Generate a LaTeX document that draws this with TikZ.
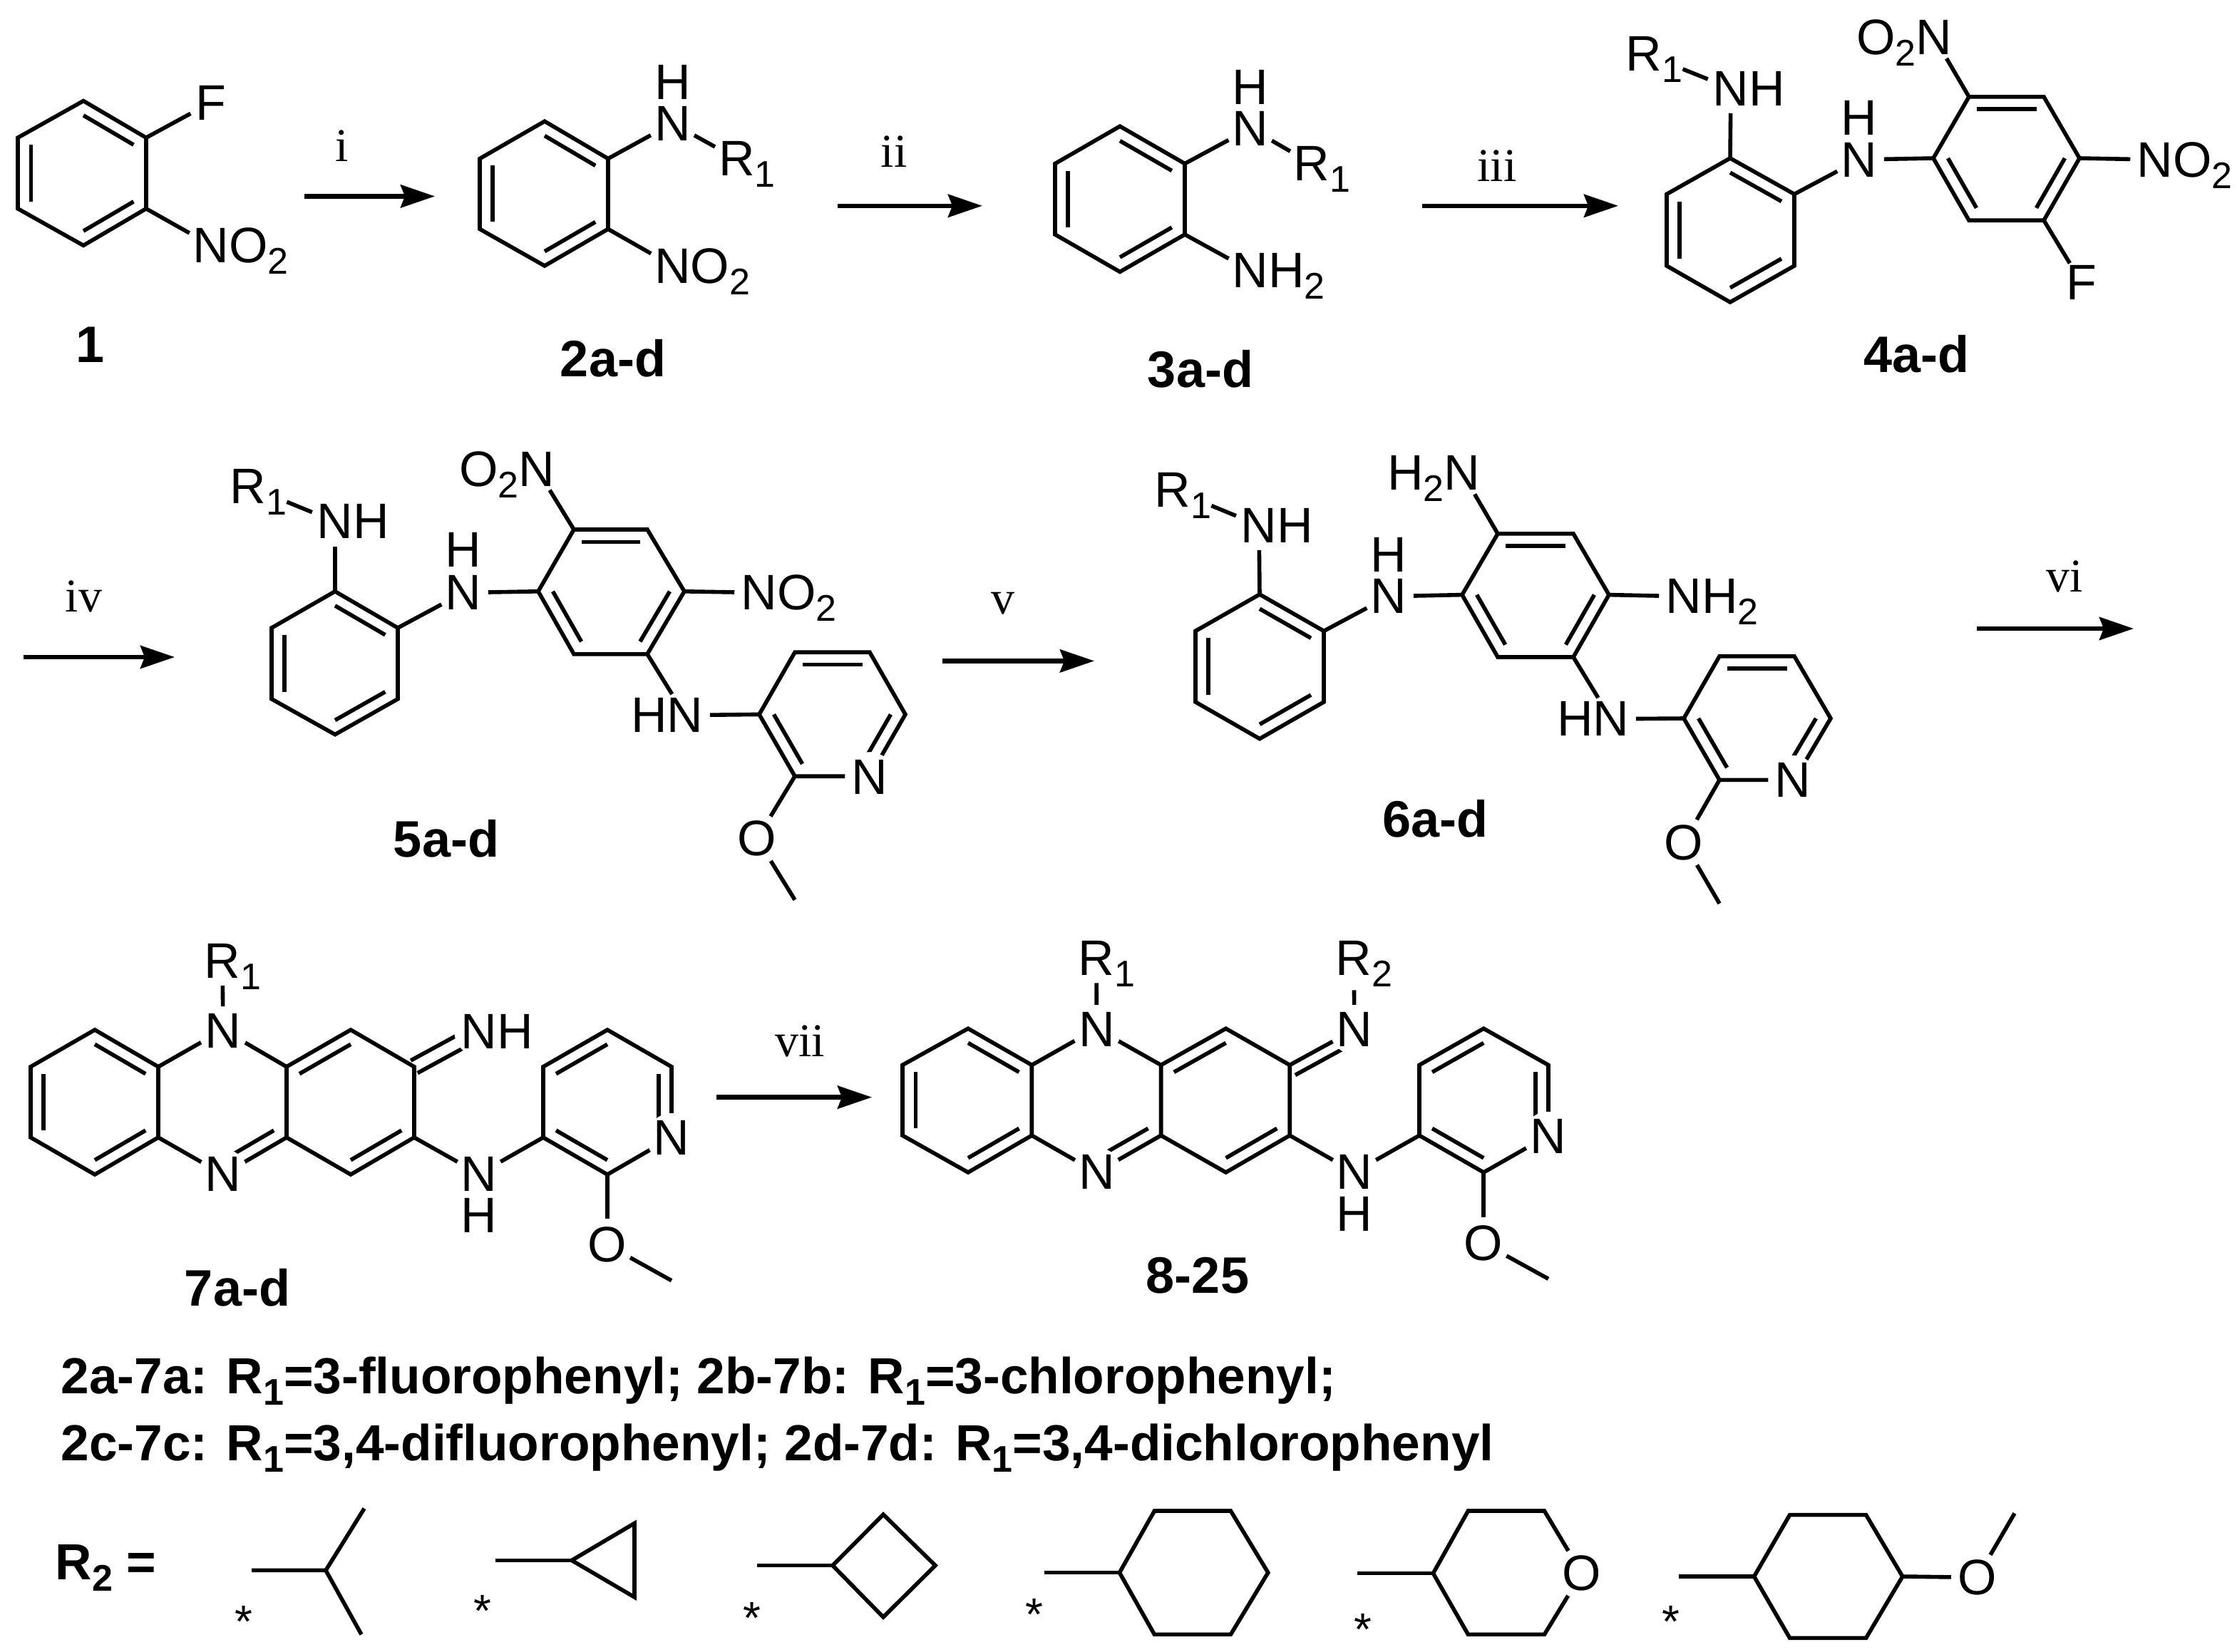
\documentclass[tikz,border=0pt]{standalone}
\usepackage{fontspec}
\setmainfont{Liberation Sans}
\newfontfamily\romanfont{Liberation Serif}
\usetikzlibrary{arrows.meta,calc}

\tikzset{every picture/.style={line width=2.8pt}}
\tikzset{bond/.style={line width=2.8pt}}
\tikzset{rxn/.style={line width=3.2pt,-{Stealth[length=24pt,width=16pt,inset=3pt]}}}
\tikzset{atom/.style={circle,inner sep=0pt,outer sep=0pt,font=\fontsize{35}{35}\selectfont}}
\tikzset{atomin/.style={atom,fill=white}}
\tikzset{cpd/.style={anchor=base,inner sep=0pt,font=\fontsize{36}{36}\selectfont\bfseries}}
\tikzset{note/.style={anchor=base west,inner sep=0pt,font=\fontsize{35.6}{35.6}\selectfont\bfseries}}
\tikzset{reagent/.style={anchor=base,inner sep=0pt,font=\fontsize{33}{33}\selectfont\romanfont}}
\tikzset{astk/.style={inner sep=0pt,font=\fontsize{32}{32}\selectfont}}

\newcommand{\low}[1]{\raisebox{-8pt}{\fontsize{26}{26}\selectfont #1}}
\newcommand{\rtext}[1]{\rlap{\smash{#1}}}
\newcommand{\ltext}[1]{\llap{\smash{#1}}}

% ring with a vertex on top: name, xl, xm, xr, ytop, yupper, ylower, ybottom
\newcommand{\pring}[8]{%
  \coordinate (#1-1) at (#3,#5);
  \coordinate (#1-2) at (#4,#6);
  \coordinate (#1-3) at (#4,#7);
  \coordinate (#1-4) at (#3,#8);
  \coordinate (#1-5) at (#2,#7);
  \coordinate (#1-6) at (#2,#6);
  \coordinate (#1-c) at ($(#1-1)!.5!(#1-4)$);
  \draw [bond] (#1-1) -- (#1-2) -- (#1-3) -- (#1-4) -- (#1-5) -- (#1-6) -- cycle;
}
% ring with an edge on top: name, xl, x1, x2, xr, ytop, ymid, ybottom
\newcommand{\fring}[8]{%
  \coordinate (#1-1) at (#3,#6);
  \coordinate (#1-2) at (#4,#6);
  \coordinate (#1-3) at (#5,#7);
  \coordinate (#1-4) at (#4,#8);
  \coordinate (#1-5) at (#3,#8);
  \coordinate (#1-6) at (#2,#7);
  \coordinate (#1-c) at ($(#1-6)!.5!(#1-3)$);
  \draw [bond] (#1-1) -- (#1-2) -- (#1-3) -- (#1-4) -- (#1-5) -- (#1-6) -- cycle;
}
\newcommand{\inbond}[3]{\draw [bond] ($(#1-#2)!.2!(#1-c)$) -- ($(#1-#3)!.2!(#1-c)$);}
\newcommand{\offbond}[3]{\draw [bond] ($(#1)!#3!90:(#2)$) -- ($(#2)!#3!-90:(#1)$);}

\begin{document}
\begin{tikzpicture}[x=1pt,y=1pt,yscale=-1,xscale=1]
    \path [use as bounding box] (0,0) rectangle (1569,1159);

    %Shape: compound 1
    \pring{r1}{12.5}{58.5}{102.5}{70.8}{96.6}{146.4}{172.2}
    \inbond{r1}{1}{2} \inbond{r1}{3}{4} \inbond{r1}{5}{6}
    \node [atom] (f1) at (147.8,72) {F};
    \node [atom] (n1) at (148,172) {N\rtext{O\low{2}}};
    \draw [bond] (r1-2) -- (f1);
    \draw [bond] (r1-3) -- (n1);
    \node [cpd] (l1) at (63.5,254.4) {1};

    %Arrow: i
    \coordinate (a1s) at (213.5,137.7);
    \coordinate (a1e) at (305,137.7);
    \draw [rxn] (a1s) -- (a1e);
    \node [reagent] (t1) at (240,113) {i};

    %Shape: compound 2
    \pring{r2}{336.5}{382}{426.5}{85.1}{111.3}{160.7}{186.5}
    \inbond{r2}{1}{2} \inbond{r2}{3}{4} \inbond{r2}{5}{6}
    \node [atom] (n2) at (471.7,86.5) {N};
    \node [atom] (h2) at (471.7,57.5) {H};
    \node [atom] (s2) at (516.7,111.4) {R\rtext{\low{1}}};
    \node [atom] (o2) at (471.7,186.5) {N\rtext{O\low{2}}};
    \draw [bond] (r2-2) -- (n2);
    \draw [bond] (n2) -- (s2);
    \draw [bond] (r2-3) -- (o2);
    \node [cpd] (l2) at (430,264) {2a-d};

    %Arrow: ii
    \coordinate (a2s) at (587.5,144.4);
    \coordinate (a2e) at (689,144.4);
    \draw [rxn] (a2s) -- (a2e);
    \node [reagent] (t2) at (627,117) {ii};

    %Shape: compound 3
    \pring{r3}{740}{785.5}{831}{88.6}{114.8}{164.5}{190.7}
    \inbond{r3}{1}{2} \inbond{r3}{3}{4} \inbond{r3}{5}{6}
    \node [atom] (n3) at (877,90) {N};
    \node [atom] (h3) at (877,61.2) {H};
    \node [atom] (s3) at (920,114.8) {R\rtext{\low{1}}};
    \node [atom] (m3) at (877,189.8) {N\rtext{H\low{2}}};
    \draw [bond] (r3-2) -- (n3);
    \draw [bond] (n3) -- (s3);
    \draw [bond] (r3-3) -- (m3);
    \node [cpd] (l3) at (842,271.6) {3a-d};

    %Arrow: iii
    \coordinate (a3s) at (997.5,144.4);
    \coordinate (a3e) at (1135,144.4);
    \draw [rxn] (a3s) -- (a3e);
    \node [reagent] (t3) at (1050,127) {iii};

    %Shape: compound 4
    \pring{r4}{1169}{1213.5}{1258.5}{111}{136.2}{186.5}{212}
    \inbond{r4}{1}{2} \inbond{r4}{3}{4} \inbond{r4}{5}{6}
    \fring{q4}{1356}{1381}{1433.5}{1458.5}{67.9}{111}{154.6}
    \inbond{q4}{1}{2} \inbond{q4}{3}{4} \inbond{q4}{5}{6}
    \node [atom] (a4) at (1214,62) {N\rtext{H}};
    \node [atom] (s4) at (1153,37.5) {R\rtext{\low{1}}};
    \node [atom] (n4) at (1304,112) {N};
    \node [atom] (h4) at (1304,82.7) {H};
    \node [atom] (o4) at (1356.5,26) {\ltext{O\low{2}}N};
    \node [atom] (p4) at (1511.5,112) {N\rtext{O\low{2}}};
    \node [atom] (f4) at (1460,198.4) {F};
    \draw [bond] (r4-1) -- (a4);
    \draw [bond,shorten <=12pt] (s4) -- (a4);
    \draw [bond] (r4-2) -- (n4);
    \draw [bond] (q4-6) -- (n4);
    \draw [bond] (q4-1) -- (o4);
    \draw [bond] (q4-3) -- (p4);
    \draw [bond] (q4-4) -- (f4);
    \node [cpd] (l4) at (1344,261) {4a-d};

    %Arrow: iv
    \coordinate (a4s) at (16.5,461);
    \coordinate (a4e) at (122.5,461);
    \draw [rxn] (a4s) -- (a4e);
    \node [reagent] (t4) at (58.7,429) {iv};

    %Shape: compound 5
    \pring{r5}{190.5}{235}{279}{414.9}{440.5}{490.4}{515.3}
    \inbond{r5}{1}{2} \inbond{r5}{3}{4} \inbond{r5}{5}{6}
    \fring{q5}{377.5}{402.5}{454}{480}{371.5}{414.9}{458.9}
    \inbond{q5}{1}{2} \inbond{q5}{3}{4} \inbond{q5}{5}{6}
    \fring{y5}{532.5}{557.5}{610}{635}{457.6}{501.2}{544.6}
    \inbond{y5}{1}{2} \inbond{y5}{3}{4} \inbond{y5}{5}{6}
    \node [atom] (a5) at (235,365.9) {N\rtext{H}};
    \node [atom] (s5) at (174,341) {R\rtext{\low{1}}};
    \node [atom] (n5) at (325,415.8) {N};
    \node [atom] (h5) at (325,385.6) {H};
    \node [atom] (o5) at (376.5,329) {\ltext{O\low{2}}N};
    \node [atom] (p5) at (532.5,415.8) {N\rtext{O\low{2}}};
    \node [atom] (b5) at (480.5,501.8) {\ltext{H}N};
    \node [atomin] (w5) at (610,545) {N};
    \node [atom] (e5) at (531,588.4) {O};
    \coordinate (c5) at (557.5,631.3);
    \draw [bond] (r5-1) -- (a5);
    \draw [bond,shorten <=12pt] (s5) -- (a5);
    \draw [bond] (r5-2) -- (n5);
    \draw [bond] (q5-6) -- (n5);
    \draw [bond] (q5-1) -- (o5);
    \draw [bond] (q5-3) -- (p5);
    \draw [bond] (q5-4) -- (b5);
    \draw [bond] (b5) -- (y5-6);
    \draw [bond] (y5-5) -- (e5);
    \draw [bond] (e5) -- (c5);
    \node [cpd] (l5) at (313,601) {5a-d};

    %Arrow: v
    \coordinate (a5s) at (661,463.7);
    \coordinate (a5e) at (767.5,463.7);
    \draw [rxn] (a5s) -- (a5e);
    \node [reagent] (t5) at (703.5,430.7) {v};

    %Shape: compound 6
    \pring{r6}{838.5}{883.5}{928.5}{417}{442.7}{492.5}{518.3}
    \inbond{r6}{1}{2} \inbond{r6}{3}{4} \inbond{r6}{5}{6}
    \fring{q6}{1025.5}{1050.5}{1103.5}{1128.5}{374.4}{417.3}{461}
    \inbond{q6}{1}{2} \inbond{q6}{3}{4} \inbond{q6}{5}{6}
    \fring{y6}{1181}{1206}{1258.5}{1284}{460.4}{504}{547.2}
    \inbond{y6}{1}{2} \inbond{y6}{3}{4} \inbond{y6}{5}{6}
    \node [atom] (a6) at (883,368.5) {N\rtext{H}};
    \node [atom] (s6) at (822.5,343.6) {R\rtext{\low{1}}};
    \node [atom] (n6) at (974,418.4) {N};
    \node [atom] (h6) at (974,389.1) {H};
    \node [atom] (o6) at (1025.5,331.7) {\ltext{H\low{2}}N};
    \node [atom] (p6) at (1181,418.4) {N\rtext{H\low{2}}};
    \node [atom] (b6) at (1130,504.4) {\ltext{H}N};
    \node [atomin] (w6) at (1257.5,547.4) {N};
    \node [atom] (e6) at (1181,591) {O};
    \coordinate (c6) at (1206,633.9);
    \draw [bond] (r6-1) -- (a6);
    \draw [bond,shorten <=12pt] (s6) -- (a6);
    \draw [bond] (r6-2) -- (n6);
    \draw [bond] (q6-6) -- (n6);
    \draw [bond] (q6-1) -- (o6);
    \draw [bond] (q6-3) -- (p6);
    \draw [bond] (q6-4) -- (b6);
    \draw [bond] (b6) -- (y6-6);
    \draw [bond] (y6-5) -- (e6);
    \draw [bond] (e6) -- (c6);
    \node [cpd] (l6) at (1006.5,587.3) {6a-d};

    %Arrow: vi
    \coordinate (a6s) at (1386.5,441);
    \coordinate (a6e) at (1496.5,441);
    \draw [rxn] (a6s) -- (a6e);
    \node [reagent] (t6) at (1448,415.3) {vi};

    %Shape: compound 7
    \pring{r7}{21.5}{66.5}{111}{722.5}{748.4}{798}{824}
    \inbond{r7}{1}{2} \inbond{r7}{3}{4} \inbond{r7}{5}{6}
    \pring{m7}{111}{156.5}{201}{722.5}{748.4}{798}{824}
    \inbond{m7}{3}{4}
    \pring{q7}{201}{246}{290.5}{722.5}{748.4}{798}{824}
    \inbond{q7}{6}{1} \inbond{q7}{3}{4}
    \pring{y7}{381}{426}{471}{722.5}{748.4}{798}{824}
    \inbond{y7}{6}{1} \inbond{y7}{2}{3} \inbond{y7}{4}{5}
    \coordinate (i7) at (336,723.6);
    \offbond{q7-2}{i7}{5pt}
    \offbond{q7-2}{i7}{-5pt}
    \node [atomin] (t7) at (156.5,723.4) {N};
    \node [atomin] (u7) at (156.5,823.6) {N};
    \node [atomin] (k7) at (336,723.6) {N\rtext{H}};
    \node [atomin] (w7) at (471,798.4) {N};
    \node [atom] (s7) at (156,674) {R\rtext{\low{1}}};
    \node [atom] (n7) at (336,823.6) {N};
    \node [atom] (h7) at (336,852.5) {H};
    \node [atom] (e7) at (426,873.4) {O};
    \coordinate (c7) at (471,898.4);
    \draw [bond] (t7) -- (s7);
    \draw [bond] (q7-3) -- (n7);
    \draw [bond] (n7) -- (y7-5);
    \draw [bond] (y7-4) -- (e7);
    \draw [bond] (e7) -- (c7);
    \node [cpd] (l7) at (166.5,916) {7a-d};

    %Arrow: vii
    \coordinate (a7s) at (502.5,769.8);
    \coordinate (a7e) at (611.5,769.8);
    \draw [rxn] (a7s) -- (a7e);
    \node [reagent] (t7a) at (561,741) {vii};

    %Shape: compound 8
    \pring{r8}{633}{679}{723.7}{721.6}{747.2}{796.6}{822.5}
    \inbond{r8}{1}{2} \inbond{r8}{3}{4} \inbond{r8}{5}{6}
    \pring{m8}{723.7}{769}{814.3}{721.6}{747.2}{796.6}{822.5}
    \inbond{m8}{3}{4}
    \pring{q8}{814.3}{859.8}{904.6}{721.6}{747.2}{796.6}{822.5}
    \inbond{q8}{6}{1} \inbond{q8}{3}{4}
    \pring{y8}{995.5}{1040.6}{1086}{721.6}{747.2}{796.6}{822.5}
    \inbond{y8}{6}{1} \inbond{y8}{2}{3} \inbond{y8}{4}{5}
    \coordinate (i8) at (950,722.3);
    \draw [bond] (q8-2) -- (i8);
    \offbond{q8-2}{i8}{8pt}
    \node [atomin] (t8) at (769.2,722.3) {N};
    \node [atomin] (u8) at (769.2,822.4) {N};
    \node [atomin] (k8) at (950,722.3) {N};
    \node [atomin] (w8) at (1085.8,797.3) {N};
    \node [atom] (s8) at (769,672.3) {R\rtext{\low{1}}};
    \node [atom] (v8) at (949.5,672.3) {R\rtext{\low{2}}};
    \node [atom] (n8) at (950,822.4) {N};
    \node [atom] (h8) at (950,851.6) {H};
    \node [atom] (e8) at (1040.6,872.2) {O};
    \coordinate (c8) at (1086,897.2);
    \draw [bond] (t8) -- (s8);
    \draw [bond,shorten <=5pt] (v8) -- (k8);
    \draw [bond] (q8-3) -- (n8);
    \draw [bond] (n8) -- (y8-5);
    \draw [bond] (y8-4) -- (e8);
    \draw [bond] (e8) -- (c8);
    \node [cpd] (l8) at (840,907) {8-25};

    %Text: substituents
    \node [note] (note1) at (41.5,977.5) {2a-7a: R\low{1}=3-fluorophenyl; 2b-7b: R\low{1}=3-chlorophenyl;};
    \node [note] (note2) at (41.5,1024.5) {2c-7c: R\low{1}=3,4-difluorophenyl; 2d-7d: R\low{1}=3,4-dichlorophenyl};
    \node [note] (note3) at (37.5,1108) {R\low{2} =};

    %Shape: isopropyl
    \coordinate (g1a) at (176.5,1101.7);
    \coordinate (g1b) at (228.5,1101.7);
    \coordinate (g1c) at (255.5,1058.3);
    \coordinate (g1d) at (253.5,1146.7);
    \draw [bond] (g1a) -- (g1b) -- (g1c);
    \draw [bond] (g1b) -- (g1d);
    \node [astk] (st1) at (171,1137.8) {*};

    %Shape: cyclopropyl
    \coordinate (g2a) at (347.5,1094.7);
    \coordinate (g2b) at (401,1094.7);
    \coordinate (g2c) at (445,1068.7);
    \coordinate (g2d) at (445,1120.5);
    \draw [bond] (g2a) -- (g2b);
    \draw [bond] (g2b) -- (g2c) -- (g2d) -- cycle;
    \node [astk] (st2) at (338.5,1130) {*};

    %Shape: cyclobutyl
    \coordinate (g3a) at (531,1098.3);
    \coordinate (g3b) at (584,1098.3);
    \coordinate (g3c) at (619.5,1062.5);
    \coordinate (g3d) at (656,1098.3);
    \coordinate (g3e) at (619.5,1134.5);
    \draw [bond] (g3a) -- (g3b);
    \draw [bond] (g3b) -- (g3c) -- (g3d) -- (g3e) -- cycle;
    \node [astk] (st3) at (527.5,1135.3) {*};

    %Shape: cyclohexyl
    \fring{g4}{785.2}{809.7}{863.2}{889.4}{1060}{1103.3}{1146.7}
    \coordinate (g4a) at (732.3,1103.3);
    \draw [bond] (g4a) -- (g4-6);
    \node [astk] (st4) at (725.6,1132.8) {*};

    %Shape: oxanyl
    \fring{g5}{1005.2}{1029.7}{1083.2}{1109.4}{1060}{1103.8}{1146.7}
    \coordinate (g5a) at (951.8,1103.8);
    \draw [bond] (g5a) -- (g5-6);
    \node [atomin] (o5r) at (1109.4,1103.8) {O};
    \node [astk] (st5) at (956.2,1143.2) {*};

    %Shape: methoxycyclohexyl
    \fring{g6}{1230.3}{1255.3}{1308.8}{1334.4}{1062.8}{1106}{1149.2}
    \coordinate (g6a) at (1177.3,1106);
    \coordinate (g6m) at (1413,1061.7);
    \draw [bond] (g6a) -- (g6-6);
    \node [atom] (o6r) at (1386.8,1106.7) {O};
    \draw [bond] (g6-3) -- (o6r);
    \draw [bond] (o6r) -- (g6m);
    \node [astk] (st6) at (1171.8,1137.8) {*};
\end{tikzpicture}
\end{document}
